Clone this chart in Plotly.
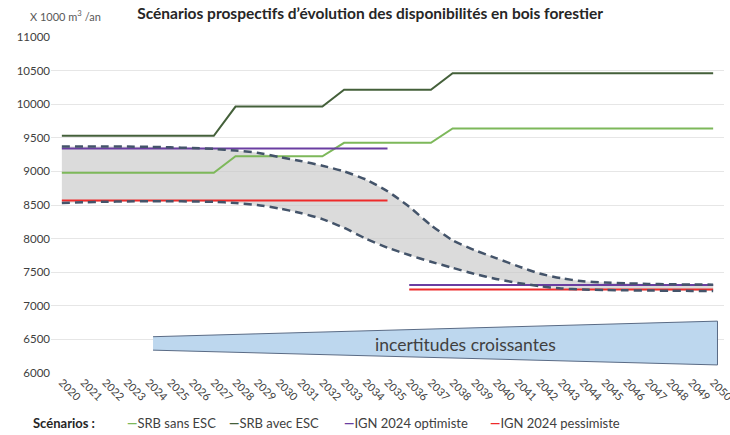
import plotly.graph_objects as go

years = list(range(2020, 2051))
tick_labels = [str(y) for y in years]
y_ticks = list(range(6000, 11001, 500))
y_tick_labels = [str(v) for v in y_ticks]

srb_sans_esc = [8980] * 8 + [9225] * 5 + [9425] * 5 + [9640] * 13
srb_avec_esc = [9530] * 8 + [9965] * 5 + [10215] * 5 + [10460] * 13

years_early = list(range(2020, 2036))
years_late = list(range(2036, 2051))
ign_opt_early = [9340] * 16
ign_opt_late = [7310] * 15
ign_pess_early = [8568] * 16
ign_pess_late = [7242] * 15

upper_bound = [9370, 9372, 9372, 9370, 9365, 9358, 9348, 9335, 9310, 9278,
               9215, 9155, 9085, 9000, 8880, 8705, 8475, 8200, 7975, 7830,
               7710, 7590, 7480, 7410, 7365, 7345, 7335, 7326, 7320, 7317, 7315]
lower_bound = [8530, 8540, 8548, 8553, 8556, 8556, 8553, 8547, 8530, 8500,
               8450, 8380, 8290, 8160, 8000, 7865, 7755, 7655, 7565, 7475,
               7400, 7340, 7292, 7258, 7242, 7235, 7230, 7227, 7224, 7222, 7220]

unc_x = [2024.2, 2050.2, 2050.2, 2024.2]
unc_y = [6540, 6772, 6120, 6340]

FONT = "Lato"
C_SANS = "#7db85a"
C_AVEC = "#44603a"
C_OPT = "#6a3ea1"
C_PESS = "#ee2b2b"
C_DASH = "#44546a"

fig = go.Figure()

# uncertainty arrow shape
fig.add_trace(go.Scatter(x=unc_x, y=unc_y, fill="toself", fillcolor="#bdd7ee",
                         line=dict(color="#5a6b85", width=1), mode="lines",
                         hoverinfo="skip", showlegend=False))

# grey band between bounds
fig.add_trace(go.Scatter(x=years, y=lower_bound, mode="lines",
                         line=dict(width=0, shape="spline", smoothing=0.6),
                         showlegend=False, hoverinfo="skip"))
fig.add_trace(go.Scatter(x=years, y=upper_bound, mode="lines", fill="tonexty",
                         fillcolor="rgba(200,200,200,0.65)",
                         line=dict(width=0, shape="spline", smoothing=0.6),
                         showlegend=False, hoverinfo="skip"))

fig.add_trace(go.Scatter(x=years, y=srb_sans_esc, mode="lines", name="SRB sans ESC",
                         line=dict(color=C_SANS, width=2), showlegend=False))
fig.add_trace(go.Scatter(x=years, y=srb_avec_esc, mode="lines", name="SRB avec ESC",
                         line=dict(color=C_AVEC, width=2), showlegend=False))
fig.add_trace(go.Scatter(x=years_early + [None] + years_late,
                         y=ign_opt_early + [None] + ign_opt_late, mode="lines",
                         name="IGN 2024 optimiste", connectgaps=False,
                         line=dict(color=C_OPT, width=2), showlegend=False))
fig.add_trace(go.Scatter(x=years_early + [None] + years_late,
                         y=ign_pess_early + [None] + ign_pess_late, mode="lines",
                         name="IGN 2024 pessimiste", connectgaps=False,
                         line=dict(color=C_PESS, width=2), showlegend=False))

for arr in (upper_bound, lower_bound):
    fig.add_trace(go.Scatter(x=years, y=arr, mode="lines",
                             line=dict(color=C_DASH, width=2.5, dash="8px,5px",
                                       shape="spline", smoothing=0.6),
                             showlegend=False, hoverinfo="skip"))

L, R, T, B = 51, 6, 37, 62
PW = 730 - L - R
PH = 435 - T - B


def px(xp):
    return (xp - L) / PW


def py(yp):
    return (435 - B - yp) / PH


fig.add_annotation(x=2038.6, y=6430, xref="x", yref="y", text="incertitudes croissantes",
                   showarrow=False, font=dict(family=FONT, size=17.5, color="#404040"))

fig.add_annotation(x=px(28), y=py(15), xref="paper", yref="paper", xanchor="left",
                   yanchor="middle", text="X 1000 m<sup>3</sup> /an", showarrow=False,
                   font=dict(family=FONT, size=11, color="#595959"))

legend_items = [("SRB sans ESC", C_SANS, 125), ("SRB avec ESC", C_AVEC, 227),
                ("IGN 2024 optimiste", C_OPT, 342), ("IGN 2024 pessimiste", C_PESS, 488)]
fig.add_annotation(x=px(31), y=py(423), xref="paper", yref="paper", xanchor="left",
                   yanchor="middle", text="<b>Scénarios :</b>", showarrow=False,
                   font=dict(family=FONT, size=13, color="#262626"))
for name, col, xp in legend_items:
    fig.add_annotation(x=px(xp), y=py(423), xref="paper", yref="paper", xanchor="left",
                       yanchor="middle", showarrow=False,
                       text=f"<span style=\"color:{col}\"><b>—</b></span>{name}",
                       font=dict(family=FONT, size=13, color="#404040"))

fig.update_layout(
    width=730, height=435,
    margin=dict(l=L, r=R, t=T, b=B, autoexpand=False),
    paper_bgcolor="white", plot_bgcolor="white",
    title=dict(text="<b>Scénarios prospectifs d’évolution des disponibilités en bois forestier</b>",
               x=0.507, xanchor="center", y=1 - 14 / 435, yanchor="middle",
               font=dict(family=FONT, size=15.5, color="#262626")),
    xaxis=dict(range=[2019.5, 2050.5], tickmode="array", tickvals=years, ticktext=tick_labels,
               tickangle=45, showgrid=False, zeroline=False, showline=False,
               ticklabeloverflow="allow",
               tickfont=dict(family=FONT, size=11, color="#404040")),
    yaxis=dict(range=[6000, 11000], tickmode="array", tickvals=y_ticks, ticktext=y_tick_labels,
               showgrid=True, gridcolor="#e6e6e6", gridwidth=1, zeroline=False,
               showline=False, ticks="", tickfont=dict(family=FONT, size=11.5, color="#404040")),
    showlegend=False,
)

fig.write_html("out.html", config={"displayModeBar": False},
               post_script="document.body.style.margin='0px';document.body.style.overflow='hidden';")
